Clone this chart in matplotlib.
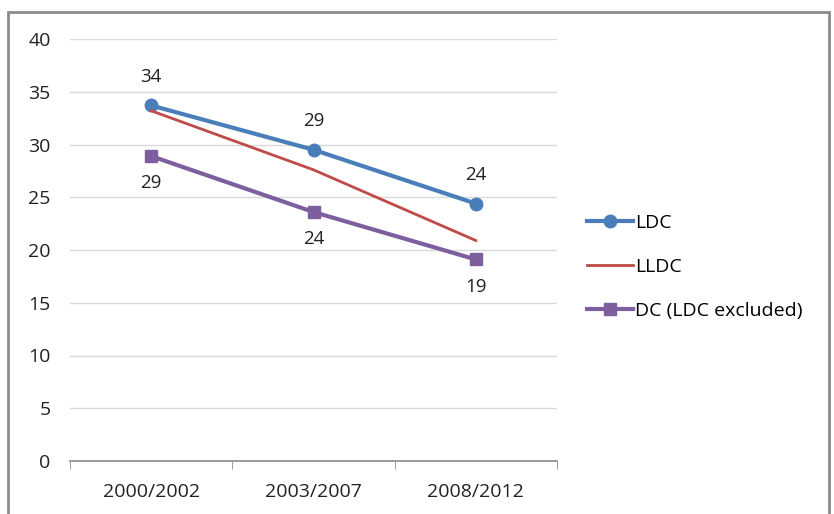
import matplotlib.pyplot as plt
from matplotlib.patches import Rectangle

periods = ['2000/2002', '2003/2007', '2008/2012']
ldc = [33.7, 29.5, 24.4]
lldc = [33.2, 27.6, 20.9]
dc = [28.9, 23.6, 19.1]
ldc_labels = ['34', '29', '24']
dc_labels = ['29', '24', '19']

plt.rcParams['font.family'] = ['Open Sans', 'DejaVu Sans']

fig = plt.figure(figsize=(8.34, 5.14), dpi=100)
ax = fig.add_axes([70 / 834, 53 / 514, 487 / 834, 422 / 514])

# outer frame of the chart area
fig.patches.append(Rectangle((8 / 834, -0.05), 821 / 834, 1.05 - 12 / 514,
                             transform=fig.transFigure, fill=False,
                             edgecolor='#8c8c8c', linewidth=2))

x = list(range(len(periods)))
ax.plot(x, ldc, color='#4a7ebb', linewidth=3, marker='o', markersize=9, label='LDC')
ax.plot(x, lldc, color='#be4b48', linewidth=2, label='LLDC')
ax.plot(x, dc, color='#7d5fa0', linewidth=3, marker='s', markersize=9, label='DC (LDC excluded)')

for i in x:
    ax.annotate(ldc_labels[i], (i, ldc[i]), xytext=(0, 14), textcoords='offset points',
                ha='center', va='bottom', fontsize=13.5, color='#222222')
    ax.annotate(dc_labels[i], (i, dc[i]), xytext=(0, -13), textcoords='offset points',
                ha='center', va='top', fontsize=13.5, color='#222222')

ax.set_xlim(-0.5, 2.5)
ax.set_ylim(0, 40)
ax.set_yticks(range(0, 41, 5))
ax.set_xticks(x)
ax.set_xticklabels(periods)
ax.set_xticks([-0.5, 0.5, 1.5, 2.5], minor=True)
ax.tick_params(axis='x', which='major', length=0, pad=16, labelsize=14, colors='#222222')
ax.tick_params(axis='x', which='minor', length=6, color='#8c8c8c', direction='out')
ax.tick_params(axis='y', length=0, pad=14, labelsize=14, colors='#222222')
ax.grid(axis='y', color='#d9d9d9', linewidth=1)
ax.set_axisbelow(True)
for s in ['top', 'right', 'left']:
    ax.spines[s].set_visible(False)
ax.spines['bottom'].set_color('#8c8c8c')
ax.spines['bottom'].set_linewidth(1.2)

ax.legend(loc='center left', bbox_to_anchor=(1.025, 0.46), frameon=False, fontsize=14,
          handlelength=2.4, handletextpad=0.1, labelspacing=1.35)

fig.savefig('out.png', dpi=100)
